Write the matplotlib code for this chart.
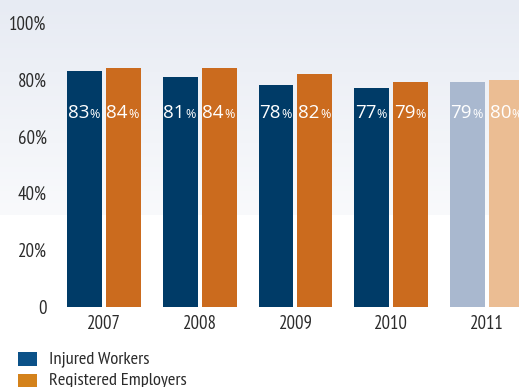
import numpy as np
import matplotlib
matplotlib.use("Agg")
import matplotlib.pyplot as plt
from matplotlib.patches import Rectangle
from matplotlib.colors import LinearSegmentedColormap

# Data
years = ["2007", "2008", "2009", "2010", "2011"]
injured_workers = [83, 81, 78, 77, 79]
registered_employers = [84, 84, 82, 79, 80]
y_ticks = [0, 20, 40, 60, 80, 100]
y_tick_labels = ["0", "20%", "40%", "60%", "80%", "100%"]

# Styling
blue = "#003b67"
orange = "#cb6b1e"
blue_light = "#a9b8cf"
orange_light = "#ebbd93"
legend_blue = "#0b5188"
legend_orange = "#d4821b"
text_dark = "#2b2b2b"
narrow = ["PT Sans Narrow", "Fira Sans Condensed", "Asap Condensed", "Cabin Condensed", "DejaVu Sans"]
label_font = ["Open Sans", "DejaVu Sans"]

W, H = 519, 387
fig = plt.figure(figsize=(W / 100, H / 100), dpi=100)
fig.patch.set_facecolor("white")

# Soft gradient band across the top of the figure
grad_h = 215
bg = fig.add_axes([0, 1 - grad_h / H, 1, grad_h / H], zorder=0)
cmap = LinearSegmentedColormap.from_list("bg", ["#e7ebf3", "#f9fafc"])
bg.imshow(np.linspace(0, 1, 256).reshape(-1, 1), aspect="auto", cmap=cmap,
          extent=[0, 1, 0, 1], origin="upper")
bg.set_axis_off()

# Main axes
ax_left, ax_right = 55, W
ax_bottom = 306.7
ax = fig.add_axes([ax_left / W, 1 - ax_bottom / H, (ax_right - ax_left) / W, ax_bottom / H], zorder=1)
ax.set_facecolor("none")

unit = 95.8
x = np.arange(len(years))
bw = 35 / unit
off = 19.5 / unit

blue_cols = [blue] * 4 + [blue_light]
orange_cols = [orange] * 4 + [orange_light]
ax.bar(x - off, injured_workers, width=bw, color=blue_cols, zorder=2)
ax.bar(x + off, registered_employers, width=bw, color=orange_cols, zorder=2)

ax.set_xlim(-(104 - ax_left) / unit, len(years) - 1 + (ax_right - 487) / unit)
ax.set_ylim(0, ax_bottom / 2.84)

# Value labels: large number followed by a smaller percent sign
label_y = 66.3
split = 4.5 / unit
for xs, vals in ((x - off, injured_workers), (x + off, registered_employers)):
    for xi, v in zip(xs, vals):
        ax.text(xi + split, label_y, f"{v}", ha="right", va="baseline",
                color="white", fontsize=13.5, family=label_font, zorder=3)
        ax.text(xi + split + 0.5 / unit, label_y, "%", ha="left", va="baseline",
                color="white", fontsize=9, family=label_font, zorder=3)

ax.set_yticks(y_ticks)
ax.set_yticklabels(y_tick_labels)
ax.set_xticks(x)
ax.set_xticklabels(years)
ax.tick_params(axis="both", length=0, labelcolor=text_dark, labelsize=13.5)
ax.tick_params(axis="y", pad=6)
ax.tick_params(axis="x", pad=6)
for lab in ax.get_xticklabels() + ax.get_yticklabels():
    lab.set_family(narrow)
for s in ax.spines.values():
    s.set_visible(False)

# Legend
entries = [("Injured Workers", legend_blue, 351.7), ("Registered Employers", legend_orange, 374.0)]
for name, col, top in entries:
    fig.patches.append(Rectangle((17.7 / W, 1 - (top + 14) / H), 19 / W, 14 / H,
                                 transform=fig.transFigure, facecolor=col,
                                 edgecolor="none", zorder=2))
    fig.text(49 / W, 1 - (top + 7) / H, name, ha="left", va="center",
             fontsize=13.3, color=text_dark, family=narrow, zorder=3)

fig.savefig("out.png", dpi=100, facecolor=fig.get_facecolor())
